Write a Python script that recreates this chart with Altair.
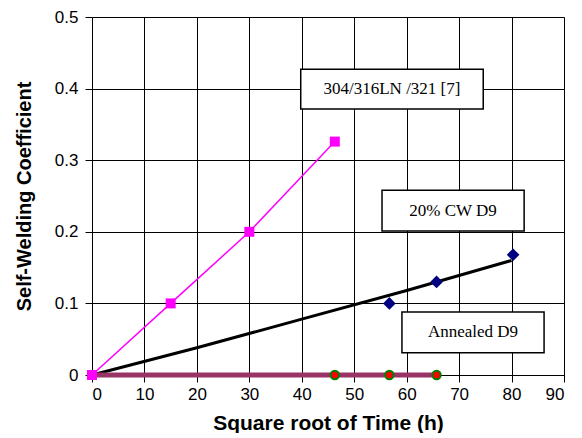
import altair as alt
import pandas as pd

# Series data
ss_x = [0, 15, 30, 46.3]
ss_y = [0, 0.1, 0.2, 0.326]

cw_x = [56.7, 65.7, 80.3]
cw_y = [0.1, 0.13, 0.168]

fit_x = [0, 20, 40, 60, 80]
fit_y = [0, 0.038, 0.078, 0.118, 0.16]

ann_x = [46.3, 56.7, 65.7]
ann_y = [0, 0, 0]
ann_line_x = [0, 65.7]
ann_line_y = [0, 0]

# Annotation boxes (data units)
box_label = ["304/316LN /321 [7]", "20% CW D9", "Annealed D9"]
box_x1 = [39.8, 55.3, 59.1]
box_x2 = [74.6, 82.4, 86.2]
box_y1 = [0.3715, 0.201, 0.031]
box_y2 = [0.427, 0.258, 0.088]

xs = alt.Scale(domain=[0, 90], nice=False)
ys = alt.Scale(domain=[0, 0.5], nice=False)

xax = alt.Axis(values=list(range(0, 91, 10)), title="Square root of Time (h)",
               grid=True, gridColor="black", gridOpacity=1, gridWidth=1,
               domainColor="black", tickColor="black", tickSize=7,
               labelFont="Liberation Sans", labelFontSize=17, labelColor="black",
               titleFont="Liberation Sans", titleFontSize=21, titleFontWeight="bold",
               titleColor="black", labelPadding=4, titlePadding=10)
yax = alt.Axis(values=[0, 0.1, 0.2, 0.3, 0.4, 0.5], title="Self-Welding Coefficient",
               format="~g",
               grid=True, gridColor="black", gridOpacity=1, gridWidth=1,
               domainColor="black", tickColor="black", tickSize=7,
               labelFont="Liberation Sans", labelFontSize=17, labelColor="black",
               titleFont="Liberation Sans", titleFontSize=20, titleFontWeight="bold",
               titleColor="black", labelPadding=7, titlePadding=20)

df_ss = pd.DataFrame({"x": ss_x, "y": ss_y})
df_cw = pd.DataFrame({"x": cw_x, "y": cw_y})
df_fit = pd.DataFrame({"x": fit_x, "y": fit_y})
df_ann = pd.DataFrame({"x": ann_x, "y": ann_y})
df_annl = pd.DataFrame({"x": ann_line_x, "y": ann_line_y})
df_box = pd.DataFrame({"label": box_label, "x1": box_x1, "x2": box_x2,
                       "y1": box_y1, "y2": box_y2})
df_box["xc"] = (df_box.x1 + df_box.x2) / 2
df_box["yc"] = (df_box.y1 + df_box.y2) / 2

base_axes = alt.Chart(df_fit).mark_line(color="black", strokeWidth=3).encode(
    x=alt.X("x:Q", scale=xs, axis=xax),
    y=alt.Y("y:Q", scale=ys, axis=yax),
)

ann_line = alt.Chart(df_annl).mark_line(color="#993366", strokeWidth=5).encode(
    x=alt.X("x:Q", scale=xs), y=alt.Y("y:Q", scale=ys))

ann_pts = alt.Chart(df_ann).mark_point(shape="circle", filled=True, fill="red",
                                        stroke="green", strokeWidth=2, size=70,
                                        opacity=1).encode(
    x=alt.X("x:Q", scale=xs), y=alt.Y("y:Q", scale=ys))

cw_pts = alt.Chart(df_cw).mark_point(shape="diamond", filled=True, color="#000080",
                                      size=160, opacity=1).encode(
    x=alt.X("x:Q", scale=xs), y=alt.Y("y:Q", scale=ys))

ss_line = alt.Chart(df_ss).mark_line(color="#FF00FF", strokeWidth=1.5).encode(
    x=alt.X("x:Q", scale=xs), y=alt.Y("y:Q", scale=ys))
ss_pts = alt.Chart(df_ss).mark_point(shape="square", filled=True, color="#FF00FF",
                                      size=100, opacity=1).encode(
    x=alt.X("x:Q", scale=xs), y=alt.Y("y:Q", scale=ys))

boxes = alt.Chart(df_box).mark_rect(fill="white", stroke="black", strokeWidth=1.5).encode(
    x=alt.X("x1:Q", scale=xs), x2="x2", y=alt.Y("y1:Q", scale=ys), y2="y2")
box_text = alt.Chart(df_box).mark_text(font="Liberation Serif", fontSize=17,
                                        color="black").encode(
    x=alt.X("xc:Q", scale=xs), y=alt.Y("yc:Q", scale=ys), text="label:N")

chart = alt.layer(base_axes, ann_line, ann_pts, cw_pts, ss_line, ss_pts, boxes, box_text).properties(
    width=472, height=358, padding={"left": 6, "top": 0, "right": 0, "bottom": 0}
).configure_view(stroke="black", strokeWidth=1).configure(background="white")

chart.save("out.html", embed_options={"renderer": "svg", "actions": False})
